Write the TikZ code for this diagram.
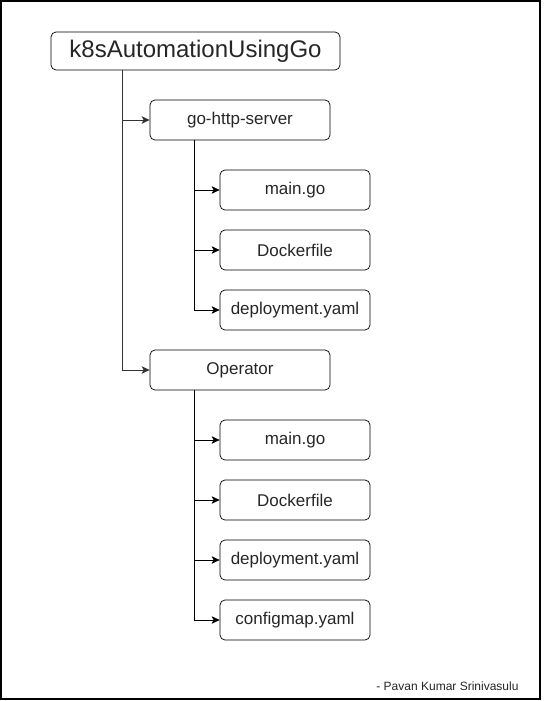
\documentclass[tikz,border=0pt]{standalone}
\usepackage{fontspec}
\setmainfont{Liberation Sans}
\usetikzlibrary{arrows.meta}
\begin{document}
\begin{tikzpicture}[x=1pt,y=-1pt,
  box/.style={draw, rounded corners=5pt, line width=0.7pt, inner sep=0pt, minimum height=40pt, text=black!85},
  rootbox/.style={box, minimum width=289pt, minimum height=38pt, font=\fontsize{24}{28}\selectfont},
  midbox/.style={box, minimum width=180pt, font=\fontsize{17}{20}\selectfont},
  leafbox/.style={box, minimum width=150pt, font=\fontsize{17}{20}\selectfont},
  arr/.style={draw, line width=0.7pt, -{Stealth[length=8pt,width=7.5pt,inset=2pt]}},
  trunk/.style={draw, line width=1pt, black!80, -{Stealth[length=8pt,width=7.5pt,inset=2pt]}}
]
\useasboundingbox (0,0) rectangle (551,701);
\draw[line width=1.3pt] (1,1) rectangle (540,699);

\node[rootbox] (root) at (195.5,51) {k8sAutomationUsingGo};
\node[midbox] (go) at (240,120) {go-http-server};
\node[leafbox] (g1) at (295,190) {main.go};
\node[leafbox] (g2) at (295,250) {Dockerfile};
\node[leafbox] (g3) at (295,310) {deployment.yaml};
\node[midbox] (op) at (240,370) {Operator};
\node[leafbox] (o1) at (295,440) {main.go};
\node[leafbox] (o2) at (295,500) {Dockerfile};
\node[leafbox] (o3) at (295,560) {deployment.yaml};
\node[leafbox] (o4) at (295,620) {configmap.yaml};

\node[font=\fontsize{12}{14}\selectfont, text=black!85, anchor=east] (credit) at (522,686) {- Pavan Kumar Srinivasulu};

\draw[trunk] (root.south west) ++(72,0) |- (op.west);
\draw[trunk] (root.south west) ++(72,0) |- (go.west);

\draw[arr] (go.south west) ++(45,0) |- (g1.west);
\draw[arr] (go.south west) ++(45,0) |- (g2.west);
\draw[arr] (go.south west) ++(45,0) |- (g3.west);

\draw[arr] (op.south west) ++(45,0) |- (o1.west);
\draw[arr] (op.south west) ++(45,0) |- (o2.west);
\draw[arr] (op.south west) ++(45,0) |- (o3.west);
\draw[arr] (op.south west) ++(45,0) |- (o4.west);
\end{tikzpicture}
\end{document}
